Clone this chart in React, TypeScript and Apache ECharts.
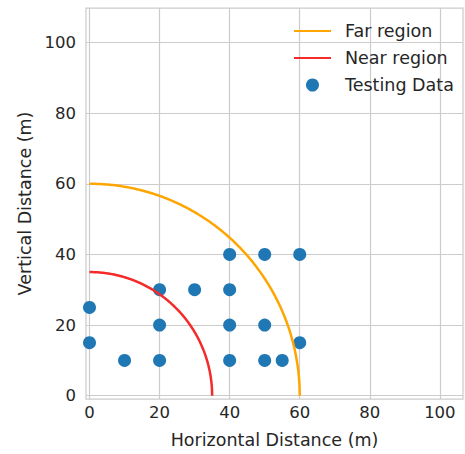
import React, { useEffect, useRef } from "react";
import * as echarts from "echarts";

const testX = [0, 0, 10, 20, 20, 20, 30, 40, 40, 40, 40, 50, 50, 50, 55, 60, 60];
const testY = [25, 15, 10, 10, 20, 30, 30, 40, 30, 20, 10, 40, 20, 10, 10, 40, 15];
const regionNames = ["Far region", "Near region"];
const regionRadii = [60, 35];
const regionColors = ["#ffa500", "#f52a2a"];
const tickValues = [0, 20, 40, 60, 80, 100];

const arcPoints = (r: number) => {
  const pts: number[][] = [];
  for (let i = 0; i <= 180; i++) {
    const t = (Math.PI / 2) * (1 - i / 180);
    pts.push([r * Math.cos(t), r * Math.sin(t)]);
  }
  return pts;
};

const FONT = "DejaVu Sans";
const TEXT = "#262626";
const GRID = "#cccccc";

export default function App() {
  const ref = useRef<HTMLDivElement>(null);
  useEffect(() => {
    if (!ref.current) return;
    const chart = echarts.init(ref.current, undefined, { renderer: "svg" });
    const label = (margin: number) => ({
      customValues: tickValues,
      color: TEXT,
      fontFamily: FONT,
      fontSize: 16.5,
      margin,
    });
    const axisCommon = (min: number, max: number) => ({
      type: "value" as const,
      min,
      max,
      axisLine: { show: false },
      axisTick: { show: false, customValues: tickValues },
      splitLine: { show: true, lineStyle: { color: GRID, width: 1.2 } },
      nameLocation: "middle" as const,
      nameTextStyle: { color: TEXT, fontFamily: FONT, fontSize: 17.5 },
    });
    chart.setOption({
      animation: false,
      backgroundColor: "#ffffff",
      grid: {
        left: 86,
        top: 8,
        width: 377,
        height: 391,
        show: true,
        borderColor: GRID,
        borderWidth: 1.25,
        containLabel: false,
      },
      legend: {
        orient: "vertical",
        left: 293,
        top: 22,
        padding: 0,
        itemWidth: 37,
        itemHeight: 13,
        itemGap: 9,
        itemTextGap: 15,
        textStyle: {
          color: TEXT,
          fontFamily: FONT,
          fontSize: 17.5,
          width: 100,
          overflow: "none",
          padding: [0, 0, 0, 9],
        },
        data: [
          { name: "Far region", itemStyle: { opacity: 0 } },
          { name: "Near region", itemStyle: { opacity: 0 } },
          { name: "Testing Data" },
        ],
      },
      xAxis: {
        ...axisCommon(-1.0, 106.6),
        name: "Horizontal Distance (m)",
        nameGap: 32,
        axisLabel: label(5),
      },
      yAxis: {
        ...axisCommon(-0.93, 109.75),
        name: "Vertical Distance (m)",
        nameGap: 47,
        axisLabel: label(10),
      },
      series: [
        ...regionNames.map((name, i) => ({
          name,
          type: "line",
          data: arcPoints(regionRadii[i]),
          showSymbol: false,
          symbol: "none",
          smooth: false,
          z: 3,
          lineStyle: { color: regionColors[i], width: 2.5 },
          itemStyle: { color: regionColors[i] },
        })),
        {
          name: "Testing Data",
          type: "scatter",
          data: testX.map((x, i) => [x, testY[i]]),
          symbolSize: 13,
          z: 2,
          itemStyle: { color: "#1f77b4", opacity: 1 },
        },
      ],
    });
    return () => chart.dispose();
  }, []);
  return <div ref={ref} style={{ width: 465, height: 454, position: "absolute", left: 0, top: 0 }} />;
}
